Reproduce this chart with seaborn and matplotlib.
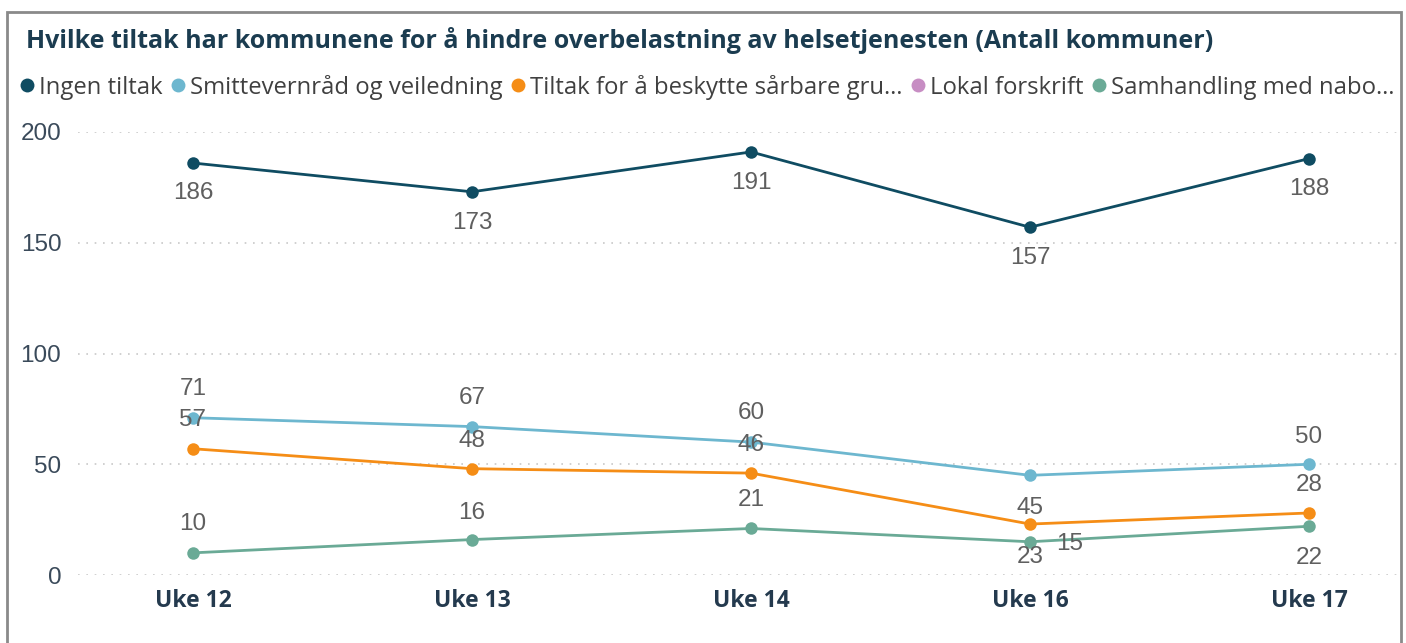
import pandas as pd
import numpy as np
import matplotlib
matplotlib.use("Agg")
import matplotlib.pyplot as plt
import seaborn as sns
from matplotlib.lines import Line2D
from matplotlib.patches import Rectangle

###############################################################################
# DATA
###############################################################################
weeks = ["Uke 12", "Uke 13", "Uke 14", "Uke 16", "Uke 17"]
series_names = [
    "Ingen tiltak",
    "Smittevernråd og veiledning",
    "Tiltak for å beskytte sårbare gru…",
    "Lokal forskrift",
    "Samhandling med nabo…",
]
ingen_tiltak = [186, 173, 191, 157, 188]
smittevern = [71, 67, 60, 45, 50]
saarbare = [57, 48, 46, 23, 28]
samhandling = [10, 16, 21, 15, 22]

colors = {
    "Ingen tiltak": "#0f4c62",
    "Smittevernråd og veiledning": "#6db7cf",
    "Tiltak for å beskytte sårbare gru…": "#f58d16",
    "Lokal forskrift": "#c78dc3",
    "Samhandling med nabo…": "#6aaa96",
}

# where the data label sits relative to its point (pixels, up is positive)
label_offsets = {
    "Ingen tiltak": [(0, -30), (0, -31), (0, -31), (0, -31), (0, -30)],
    "Smittevernråd og veiledning": [(0, 29), (0, 29), (0, 29), (0, -33), (0, 27)],
    "Tiltak for å beskytte sårbare gru…": [(0, 29), (0, 28), (0, 28), (0, -33), (0, 28)],
    "Samhandling med nabo…": [(0, 29), (0, 27), (0, 28), (40, -2), (0, -32)],
}

plotted = [(series_names[0], ingen_tiltak), (series_names[1], smittevern),
           (series_names[2], saarbare), (series_names[4], samhandling)]

rows = []
for name, vals in plotted:
    for w, v in zip(weeks, vals):
        rows.append({"Uke": w, "Tiltak": name, "Antall": v})
df = pd.DataFrame(rows)

###############################################################################
# PLOT
###############################################################################
sns.set_style("white")
plt.rcParams["font.family"] = ["Open Sans", "DejaVu Sans"]

W, H = 1406, 643
fig = plt.figure(figsize=(W / 100, H / 100), dpi=100)
ax = fig.add_axes([78 / W, 1 - 575 / H, (1400 - 78) / W, (575 - 132) / H])

sns.lineplot(data=df, x="Uke", y="Antall", hue="Tiltak",
             hue_order=[n for n, _ in plotted],
             palette=colors, marker="o", markersize=9, markeredgewidth=0,
             linewidth=2, legend=False, ax=ax, clip_on=False)

# data labels
for name, vals in plotted:
    for i, v in enumerate(vals):
        dx, dy = label_offsets[name][i]
        ax.annotate(str(v), (i, v), xytext=(dx, dy), textcoords="offset pixels",
                    ha="center", va="center", fontsize=17.5, color="#5f5f5f",
                    family=["Liberation Sans", "DejaVu Sans"])

ax.set_xlim(-0.412, 4.326)
ax.set_ylim(0, 200)
ax.set_yticks([0, 50, 100, 150, 200])
ax.grid(axis="y", linestyle=(0, (1, 4)), color="#c8c8c8", linewidth=1.2)
ax.grid(axis="x", visible=False)
for s in ax.spines.values():
    s.set_visible(False)
ax.set_xlabel("")
ax.set_ylabel("")
ax.tick_params(axis="y", length=0, pad=12, labelsize=17.5, labelcolor="#3a4a5a")
ax.tick_params(axis="x", length=0, pad=10, labelsize=16.5, labelcolor="#243a4e")
for t in ax.get_yticklabels():
    t.set_family(["Liberation Sans", "DejaVu Sans"])
for t in ax.get_xticklabels():
    t.set_fontweight("bold")

# title
fig.text(26 / W, 1 - 40 / H,
         "Hvilke tiltak har kommunene for å hindre overbelastning av helsetjenesten (Antall kommuner)",
         fontsize=18, fontweight="bold", color="#1b3c50", va="center", ha="left")

# legend
handles = [Line2D([], [], linestyle="none", marker="o", markersize=10,
                  markerfacecolor=colors[n], markeredgewidth=0) for n in series_names]
leg = fig.legend(handles, series_names, loc="center left",
                 bbox_to_anchor=(20 / W, 1 - 87 / H), ncol=5, frameon=False,
                 handlelength=0.6, handletextpad=0.2, columnspacing=0.35,
                 fontsize=17.2, borderaxespad=0, borderpad=0)
for t in leg.get_texts():
    t.set_color("#404040")

# border
fig.add_artist(Rectangle((7 / W, -0.1), (1401 - 7) / W, 1.1 - 12 / H,
                         transform=fig.transFigure, fill=False,
                         edgecolor="#8a8a8a", linewidth=2))

fig.savefig("out.png", dpi=100)
